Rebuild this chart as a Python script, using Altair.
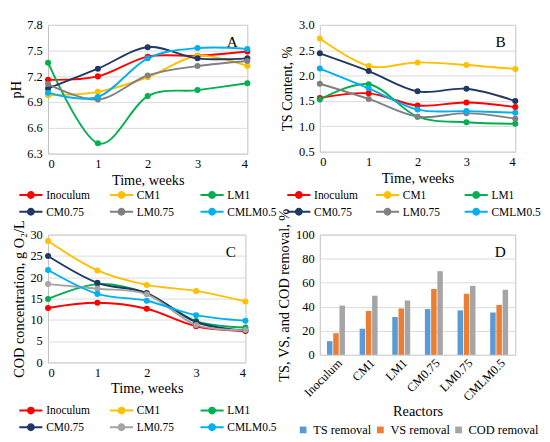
import altair as alt
import pandas as pd

weeks = [0, 1, 2, 3, 4]
series = ["Inoculum", "CM1", "LM1", "CM0.75", "LM0.75", "CMLM0.5"]
colors_ab = ["#FF0000", "#FFC000", "#00B050", "#1F3864", "#808080", "#00B0F0"]
colors_c = ["#FF0000", "#FFC000", "#00B050", "#1F3864", "#A5A5A5", "#00B0F0"]

# Panel A: pH
ph_inoculum = [7.16, 7.20, 7.43, 7.44, 7.49]
ph_cm1 = [6.98, 7.02, 7.19, 7.44, 7.32]
ph_lm1 = [7.36, 6.42, 6.97, 7.04, 7.12]
ph_cm075 = [7.06, 7.29, 7.54, 7.41, 7.41]
ph_lm075 = [7.11, 6.93, 7.21, 7.32, 7.38]
ph_cmlm05 = [7.01, 6.96, 7.41, 7.53, 7.52]

# Panel B: TS content, %
ts_inoculum = [1.56, 1.65, 1.41, 1.47, 1.38]
ts_cm1 = [2.73, 2.19, 2.26, 2.21, 2.13]
ts_lm1 = [1.53, 1.83, 1.19, 1.08, 1.05]
ts_cm075 = [2.44, 2.09, 1.69, 1.74, 1.50]
ts_lm075 = [1.84, 1.54, 1.19, 1.26, 1.15]
ts_cmlm05 = [2.14, 1.75, 1.33, 1.30, 1.27]

# Panel C: COD concentration, g O2/L
cod_inoculum = [12.8, 14.0, 12.6, 8.5, 7.4]
cod_cm1 = [28.5, 21.6, 18.2, 16.8, 14.3]
cod_lm1 = [14.9, 18.4, 16.2, 9.7, 8.2]
cod_cm075 = [25.0, 18.7, 16.3, 9.5, 7.5]
cod_lm075 = [18.4, 17.3, 16.0, 8.8, 7.6]
cod_cmlm05 = [21.7, 16.1, 14.5, 11.1, 9.8]

# Panel D: removal, %
removal_types = ["TS removal", "VS removal", "COD removal"]
removal_colors = ["#5B9BD5", "#ED7D31", "#A5A5A5"]
ts_removal = [11.4, 21.7, 31.5, 38.1, 37.0, 35.2]
vs_removal = [18.0, 36.5, 38.6, 54.8, 50.8, 41.5]
cod_removal = [41.0, 49.2, 45.2, 69.6, 57.4, 54.2]

FONT = "Liberation Serif"
SYM = "M-1.4,0L1.4,0M0.36,0A0.36,0.36,0,1,1,-0.36,0A0.36,0.36,0,1,1,0.36,0Z"


def long_table(lists):
    rows = []
    for name, vals in zip(series, lists):
        for w, v in zip(weeks, vals):
            rows.append({"Series": name, "Week": w, "Value": v})
    return pd.DataFrame(rows)


def line_panel(lists, ytitle, ydomain, ystep_vals, fmt, label, colors, w, h, lx, ly, cpad):
    df = long_table(lists)
    color = alt.Color(
        "Series:N",
        sort=series,
        scale=alt.Scale(domain=series, range=colors),
        legend=alt.Legend(
            title=None, orient="none", legendX=lx, legendY=ly, columns=3,
            direction="horizontal", symbolType=SYM, symbolSize=300,
            symbolStrokeWidth=2, labelFont=FONT, labelFontSize=12,
            labelFontWeight="normal",
            labelColor="black", columnPadding=cpad, rowPadding=-3,
            labelOffset=6, gridAlign="all", labelLimit=80, padding=0,
        ),
    )
    x = alt.X("Week:Q", scale=alt.Scale(domain=[0, 4], nice=False),
              axis=alt.Axis(values=weeks, title="Time, weeks", grid=False,
                            ticks=False, domain=False, labelPadding=5,
                            titlePadding=2, format="d",
                            labelFont=FONT, titleFont=FONT, titleFontWeight="normal"))
    y = alt.Y("Value:Q", scale=alt.Scale(domain=ydomain, nice=False),
              axis=alt.Axis(values=ystep_vals, title=ytitle, format=fmt,
                            ticks=False, domain=False, labelPadding=6,
                            titlePadding=4, gridColor="#D9D9D9",
                            labelFont=FONT, titleFont=FONT, titleFontWeight="normal"))
    base = alt.Chart(df)
    lines = base.mark_line(interpolate="cardinal", strokeWidth=2).encode(
        x=x, y=y, color=color, detail="Series:N")
    pts = base.mark_circle(size=40, opacity=1).encode(x=x, y=y, color=color)
    txt = alt.Chart(pd.DataFrame({"t": [label]})).mark_text(
        font=FONT, fontSize=16, align="right", baseline="top").encode(
        x=alt.value(w - 10), y=alt.value(10), text="t:N")
    return alt.layer(lines, pts, txt).properties(width=w, height=h)


A = line_panel([ph_inoculum, ph_cm1, ph_lm1, ph_cm075, ph_lm075, ph_cmlm05],
               "pH", [6.3, 7.8], [6.3, 6.6, 6.9, 7.2, 7.5, 7.8], ".1f", "A",
               colors_ab, 209, 135, -28, 168, 10)
B = line_panel([ts_inoculum, ts_cm1, ts_lm1, ts_cm075, ts_lm075, ts_cmlm05],
               "TS Content, %", [0.5, 3.0], [0.5, 1.0, 1.5, 2.0, 2.5, 3.0], ".1f", "B",
               colors_ab, 205, 133, -32, 168, 8)
C = line_panel([cod_inoculum, cod_cm1, cod_lm1, cod_cm075, cod_lm075, cod_cmlm05],
               "COD concentration, g O\u2082/L", [0, 30], [0, 5, 10, 15, 20, 25, 30], "d", "C",
               colors_c, 207, 134, -28, 174, 10)

rows = []
for i, r in enumerate(series):
    for t, vals in zip(removal_types, [ts_removal, vs_removal, cod_removal]):
        rows.append({"Reactor": r, "Type": t, "Value": vals[i]})
dfd = pd.DataFrame(rows)

bars = alt.Chart(dfd).mark_bar().encode(
    x=alt.X("Reactor:N", sort=series, scale=alt.Scale(paddingInner=0.45, paddingOuter=0.22),
            axis=alt.Axis(title="Reactors", labelAngle=-45, ticks=False, domain=False,
                          labelPadding=2, titlePadding=1, labelFontSize=13,
                          labelFont=FONT, titleFont=FONT, titleFontWeight="normal")),
    xOffset=alt.XOffset("Type:N", sort=removal_types,
                        scale=alt.Scale(paddingInner=0.12)),
    y=alt.Y("Value:Q", scale=alt.Scale(domain=[0, 100], nice=False),
            axis=alt.Axis(values=[0, 20, 40, 60, 80, 100], title="TS, VS, and COD removal, %",
                          ticks=False, domain=False, labelPadding=6, titlePadding=4,
                          gridColor="#D9D9D9",
                          labelFont=FONT, titleFont=FONT, titleFontWeight="normal")),
    color=alt.Color("Type:N", sort=removal_types,
                    scale=alt.Scale(domain=removal_types, range=removal_colors),
                    legend=alt.Legend(title=None, orient="none", legendX=-24, legendY=198,
                                      direction="horizontal", symbolType="square",
                                      symbolSize=50, labelFont=FONT, labelFontSize=13,
                                      labelColor="black", columnPadding=2, padding=0,
                                      symbolStrokeWidth=0, labelOffset=4)),
)
dtxt = alt.Chart(pd.DataFrame({"t": ["D"]})).mark_text(
    font=FONT, fontSize=16, align="right", baseline="top").encode(
    x=alt.value(205 - 10), y=alt.value(10), text="t:N")
D = alt.layer(bars, dtxt).properties(width=205, height=126)

chart = alt.concat(
    A, B, C, D, columns=2, spacing={"row": 85, "column": 76}, bounds="flush"
).resolve_scale(
    color="independent", x="independent", y="independent").resolve_legend(
    color="independent").configure(
    font=FONT, padding=0
).configure_view(stroke="#BFBFBF", strokeWidth=1).configure_axis(
    labelFont=FONT, labelFontSize=13, labelColor="black",
    titleFont=FONT, titleFontSize=15, titleFontWeight="normal", titleColor="black",
    gridWidth=1,
).configure_legend(labelFont=FONT)

chart.save("out.html", embed_options={"renderer": "svg", "actions": False})
